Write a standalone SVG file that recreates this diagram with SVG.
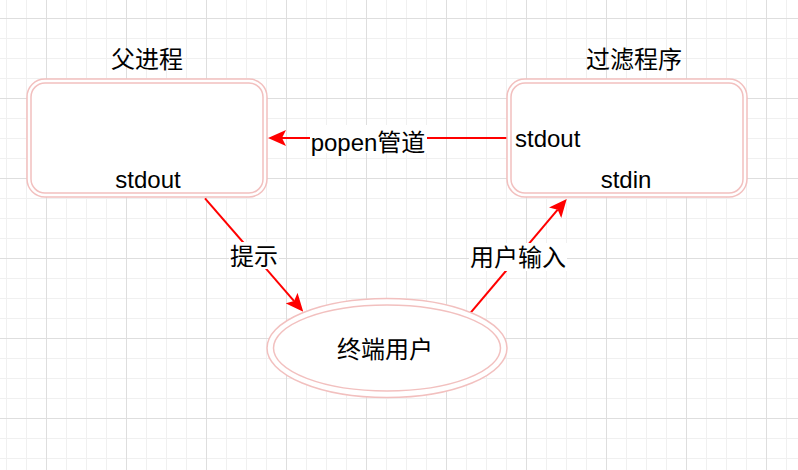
<svg xmlns="http://www.w3.org/2000/svg" width="798" height="470" viewBox="0 0 798 470">
  <style>
    .box { fill: #ffffff; stroke: #f2c0bf; stroke-width: 1.5; }
    .inner { fill: none; stroke: #f2c0bf; stroke-width: 1.5; }
    .txt { font-family: "Liberation Sans", "Noto Sans CJK SC", sans-serif; font-size: 24px; fill: #000000; }
    .mid { text-anchor: middle; }
    .edge { fill: none; stroke: #ff0000; stroke-width: 2; }
    .lblbg { fill: #ffffff; }
  </style>
  <defs>
    <pattern id="minor" x="6" y="18" width="20" height="20" patternUnits="userSpaceOnUse">
      <rect x="0" y="0" width="1" height="20" fill="#f0f0f0"/>
      <rect x="0" y="0" width="20" height="1" fill="#f0f0f0"/>
    </pattern>
    <pattern id="major" x="46" y="18" width="80" height="80" patternUnits="userSpaceOnUse">
      <rect x="0" y="0" width="1" height="80" fill="#dedede"/>
      <rect x="0" y="0" width="80" height="1" fill="#dedede"/>
    </pattern>
    <marker id="arrow" markerUnits="userSpaceOnUse" markerWidth="18" markerHeight="16" viewBox="0 0 18 16" refX="4" refY="8" orient="auto">
      <path d="M0,0 L18,8 L0,16 L4,8 Z" fill="#ff0000"/>
    </marker>
  </defs>
  <rect x="0" y="0" width="798" height="470" fill="#ffffff"/>
  <rect x="0" y="0" width="798" height="470" fill="url(#minor)"/>
  <rect x="0" y="0" width="798" height="470" fill="url(#major)"/>

  <g id="connectors">
    <g id="edge-popen">
      <path class="edge" d="M507,138 L282,138" marker-end="url(#arrow)"/>
      <rect class="lblbg" x="310" y="125" width="117" height="28"/>
      <text class="txt mid" x="368" y="151">popen管道</text>
    </g>
    <g id="edge-prompt">
      <path class="edge" d="M205,198.3 L294.1,301.1" marker-end="url(#arrow)"/>
      <rect class="lblbg" x="229" y="242" width="50" height="27"/>
      <text class="txt mid" x="254" y="265">提示</text>
    </g>
    <g id="edge-input">
      <path class="edge" d="M470.7,312.7 L557.7,209.7" marker-end="url(#arrow)"/>
      <rect class="lblbg" x="469" y="243" width="98" height="28"/>
      <text class="txt mid" x="518" y="266">用户输入</text>
    </g>
  </g>

  <g id="parent">
    <text class="txt mid" x="147" y="68">父进程</text>
    <rect class="box" x="27" y="79" width="240" height="118" rx="18" ry="18"/>
    <rect class="inner" x="31" y="83" width="232" height="110" rx="14" ry="14"/>
    <text class="txt mid" x="148" y="188">stdout</text>
  </g>

  <g id="filter">
    <text class="txt mid" x="634" y="68">过滤程序</text>
    <rect class="box" x="507" y="79" width="240" height="118" rx="18" ry="18"/>
    <rect class="inner" x="511" y="83" width="232" height="110" rx="14" ry="14"/>
    <text class="txt" x="515" y="147">stdout</text>
    <text class="txt mid" x="626" y="188">stdin</text>
  </g>

  <g id="user">
    <ellipse class="box" cx="387" cy="348" rx="120" ry="49.5"/>
    <ellipse class="inner" cx="387" cy="348" rx="113.5" ry="43"/>
    <text class="txt mid" x="385" y="358">终端用户</text>
  </g>
</svg>
